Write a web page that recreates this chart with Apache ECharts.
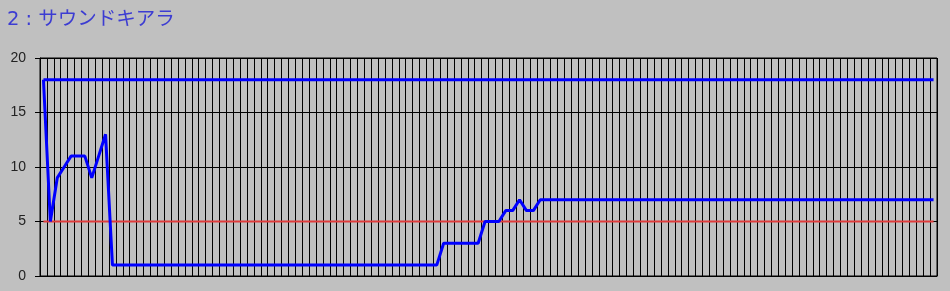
<!DOCTYPE html>
<html>
<head>
<meta charset="utf-8">
<script src="https://cdn.jsdelivr.net/npm/echarts@6/dist/echarts.min.js"></script>
<style>
html,body{margin:0;padding:0;background:#c0c0c0;}
#chart{width:950px;height:291px;}
</style>
</head>
<body>
<div id="chart"></div>
<script>
const titleText = "2 : サウンドキアラ";
const categories = [
1,2,3,4,5,6,7,8,9,10,11,12,13,14,15,16,17,18,19,20,
21,22,23,24,25,26,27,28,29,30,31,32,33,34,35,36,37,38,39,40,
41,42,43,44,45,46,47,48,49,50,51,52,53,54,55,56,57,58,59,60,
61,62,63,64,65,66,67,68,69,70,71,72,73,74,75,76,77,78,79,80,
81,82,83,84,85,86,87,88,89,90,91,92,93,94,95,96,97,98,99,100,
101,102,103,104,105,106,107,108,109,110,111,112,113,114,115,116,117,118,119,120,
121,122,123,124,125,126,127,128,129,130
];
const mainValues = [
18,5,9,10,11,11,11,9,11,13,
1,1,1,1,1,1,1,1,1,1,1,1,1,1,1,1,1,1,1,1,1,1,1,1,1,1,1,1,1,1,
1,1,1,1,1,1,1,1,1,1,1,1,1,1,1,1,1,1,
3,3,3,3,3,3,
5,5,5,
6,6,
7,
6,6,
7,7,7,7,7,7,7,7,7,7,7,7,7,7,7,7,7,7,7,7,
7,7,7,7,7,7,7,7,7,7,7,7,7,7,7,7,7,7,7,7,
7,7,7,7,7,7,7,7,7,7,7,7,7,7,7,7,7,7
];
const maxValues = [
18,18,18,18,18,18,18,18,18,18,18,18,18,18,18,18,18,18,18,18,
18,18,18,18,18,18,18,18,18,18,18,18,18,18,18,18,18,18,18,18,
18,18,18,18,18,18,18,18,18,18,18,18,18,18,18,18,18,18,18,18,
18,18,18,18,18,18,18,18,18,18,18,18,18,18,18,18,18,18,18,18,
18,18,18,18,18,18,18,18,18,18,18,18,18,18,18,18,18,18,18,18,
18,18,18,18,18,18,18,18,18,18,18,18,18,18,18,18,18,18,18,18,
18,18,18,18,18,18,18,18,18,18
];
const thresholdValues = [
5,5,5,5,5,5,5,5,5,5,5,5,5,5,5,5,5,5,5,5,
5,5,5,5,5,5,5,5,5,5,5,5,5,5,5,5,5,5,5,5,
5,5,5,5,5,5,5,5,5,5,5,5,5,5,5,5,5,5,5,5,
5,5,5,5,5,5,5,5,5,5,5,5,5,5,5,5,5,5,5,5,
5,5,5,5,5,5,5,5,5,5,5,5,5,5,5,5,5,5,5,5,
5,5,5,5,5,5,5,5,5,5,5,5,5,5,5,5,5,5,5,5,
5,5,5,5,5,5,5,5,5,5
];
const yTicks = [0,5,10,15,20];

const chart = echarts.init(document.getElementById('chart'), null, {renderer:'canvas'});
chart.setOption({
  animation:false,
  backgroundColor:'#c0c0c0',
  title:{
    text:titleText, left:7, top:10, padding:0,
    textStyle:{color:'#3c3cd2', fontSize:19.5, fontWeight:'normal', fontFamily:'"DejaVu Sans", "Noto Sans CJK JP", sans-serif'}
  },
  grid:{left:40, right:13, top:58, bottom:15, show:true, borderColor:'#000', borderWidth:1, backgroundColor:'transparent'},
  xAxis:{
    type:'category', data:categories, boundaryGap:true,
    axisLine:{show:true, lineStyle:{color:'#000', width:1}},
    axisTick:{show:false}, axisLabel:{show:false},
    splitLine:{show:true, interval:0, lineStyle:{color:'#000', width:1}}
  },
  yAxis:{
    type:'value', min:yTicks[0], max:yTicks[yTicks.length-1], interval:5,
    axisLine:{show:true, lineStyle:{color:'#000', width:1}},
    axisTick:{show:true, length:5, lineStyle:{color:'#000'}},
    axisLabel:{color:'#222', fontSize:14, margin:14, fontFamily:'"Liberation Sans", Arial, sans-serif'},
    splitLine:{show:true, lineStyle:{color:'#000', width:1}}
  },
  series:[
    {type:'line', data:thresholdValues, symbol:'none', lineStyle:{color:'#e03c3c', width:2}, z:5},
    {type:'line', data:maxValues, symbol:'none', lineStyle:{color:'#0000ff', width:3}, z:6},
    {type:'line', data:mainValues, symbol:'none', lineStyle:{color:'#0000ff', width:3}, z:7}
  ]
});
</script>
</body>
</html>
